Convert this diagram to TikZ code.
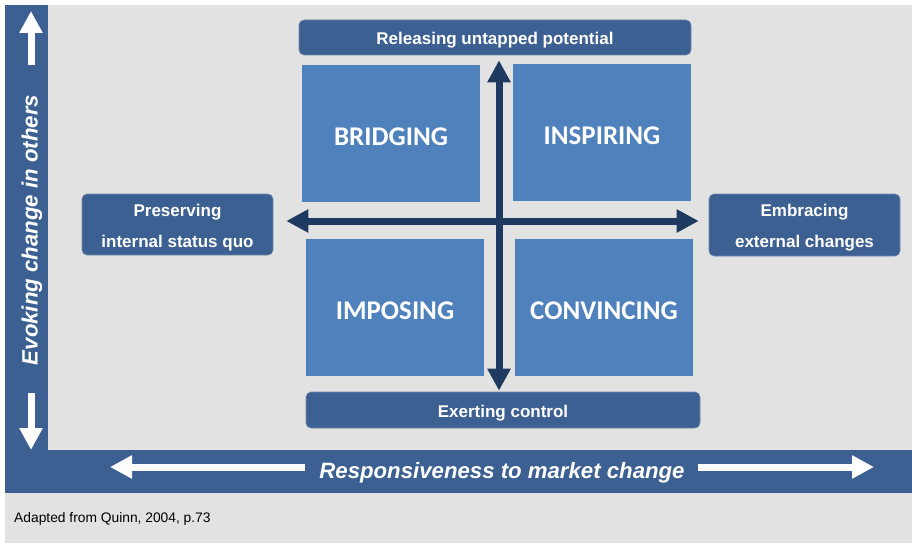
\documentclass[tikz,border=0pt]{standalone}
\usepackage{fontspec}
\setmainfont{Liberation Sans}
\newfontfamily\calfont{Carlito}
\usetikzlibrary{arrows.meta}
\definecolor{bg}{HTML}{E2E2E2}
\definecolor{darkbox}{HTML}{3C6091}
\definecolor{boxedge}{HTML}{7189AB}
\definecolor{quad}{HTML}{4F81BD}
\definecolor{navy}{HTML}{1F3A60}
\begin{document}
\begin{tikzpicture}[x=1pt,y=-1pt,
  labelbox/.style={fill=darkbox, draw=boxedge, line width=0.6pt, rounded corners=5pt,
    text=white, font=\bfseries\fontsize{17}{31}\selectfont, align=center, inner sep=0pt},
  onebox/.style={labelbox, text height=15pt, text depth=0pt},
  twobox/.style={labelbox, text height=45.8pt, text depth=0pt},
  quadbox/.style={fill=quad, text=white, font=\calfont\bfseries\fontsize{27}{30}\selectfont,
    inner sep=0pt, text height=23pt, text depth=0pt},
  axisarrow/.style={navy, line width=7pt,
    {Triangle[width=22pt,length=22pt]}-{Triangle[width=22pt,length=22pt]}},
  whitearrow/.style={white, line width=7pt, -{Triangle[width=22pt,length=22pt]}},
  axistext/.style={text=white, font=\bfseries\itshape\fontsize{22.2}{26}\selectfont, inner sep=0pt}
]
% background
\fill[white] (0,0) rectangle (912,543);
\fill[bg] (5,5) rectangle (912,543);
% axis bars
\fill[darkbox] (5,5) rectangle (48,493);
\fill[darkbox] (5,450) rectangle (912,493);

% vertical axis
\coordinate (upA) at (31,65);
\coordinate (upB) at (31,11);
\coordinate (dnA) at (31,393);
\coordinate (dnB) at (31,450);
\draw[whitearrow] (upA) -- (upB);
\draw[whitearrow] (dnA) -- (dnB);
\node[axistext, rotate=90] (evoking) at (32,230) {Evoking change in others};

% horizontal axis
\coordinate (lfA) at (305,467);
\coordinate (lfB) at (110,467);
\coordinate (rtA) at (698,467);
\coordinate (rtB) at (874,467);
\draw[whitearrow] (lfA) -- (lfB);
\draw[whitearrow] (rtA) -- (rtB);
\node[axistext] (resp) at (502,473) {Responsiveness to market change};

% quadrants
\node[quadbox, minimum width=178pt, minimum height=137pt] (bridging) at (391,133.5) {BRIDGING};
\node[quadbox, minimum width=178pt, minimum height=137pt] (inspiring) at (602,132.5) {INSPIRING};
\node[quadbox, minimum width=178pt, minimum height=137pt] (imposing) at (395,307.5) {IMPOSING};
\node[quadbox, minimum width=178pt, minimum height=137pt] (convincing) at (604,307.5) {CONVINCING};

% label boxes
\node[onebox, minimum width=392pt, minimum height=35pt] (top) at (495,37.5) {Releasing untapped potential};
\node[onebox, minimum width=394pt, minimum height=36pt] (bottom) at (503,410) {Exerting control};
\node[twobox, minimum width=191pt, minimum height=61pt] (left) at (177.5,224.5) {Preserving\\internal status quo};
\node[twobox, minimum width=191pt, minimum height=62pt] (right) at (804.5,225) {Embracing\\external changes};

% central axes
\coordinate (hc) at (499,221);
\path (left.east |- hc) ++(13,0) coordinate (hl);
\path (right.west |- hc) ++(-10,0) coordinate (hr);
\draw[axisarrow] (hl) -- (hr);
\coordinate (vt) at ([yshift=-5pt]top.south -| hc);
\coordinate (vb) at ([yshift=1pt]bottom.north -| hc);
\draw[axisarrow] (vb) -- (vt);

% source
\node[anchor=west, font=\fontsize{13.8}{16}\selectfont, text=black, inner sep=0pt] (src) at (14,519) {Adapted from Quinn, 2004, p.73};
\end{tikzpicture}
\end{document}
